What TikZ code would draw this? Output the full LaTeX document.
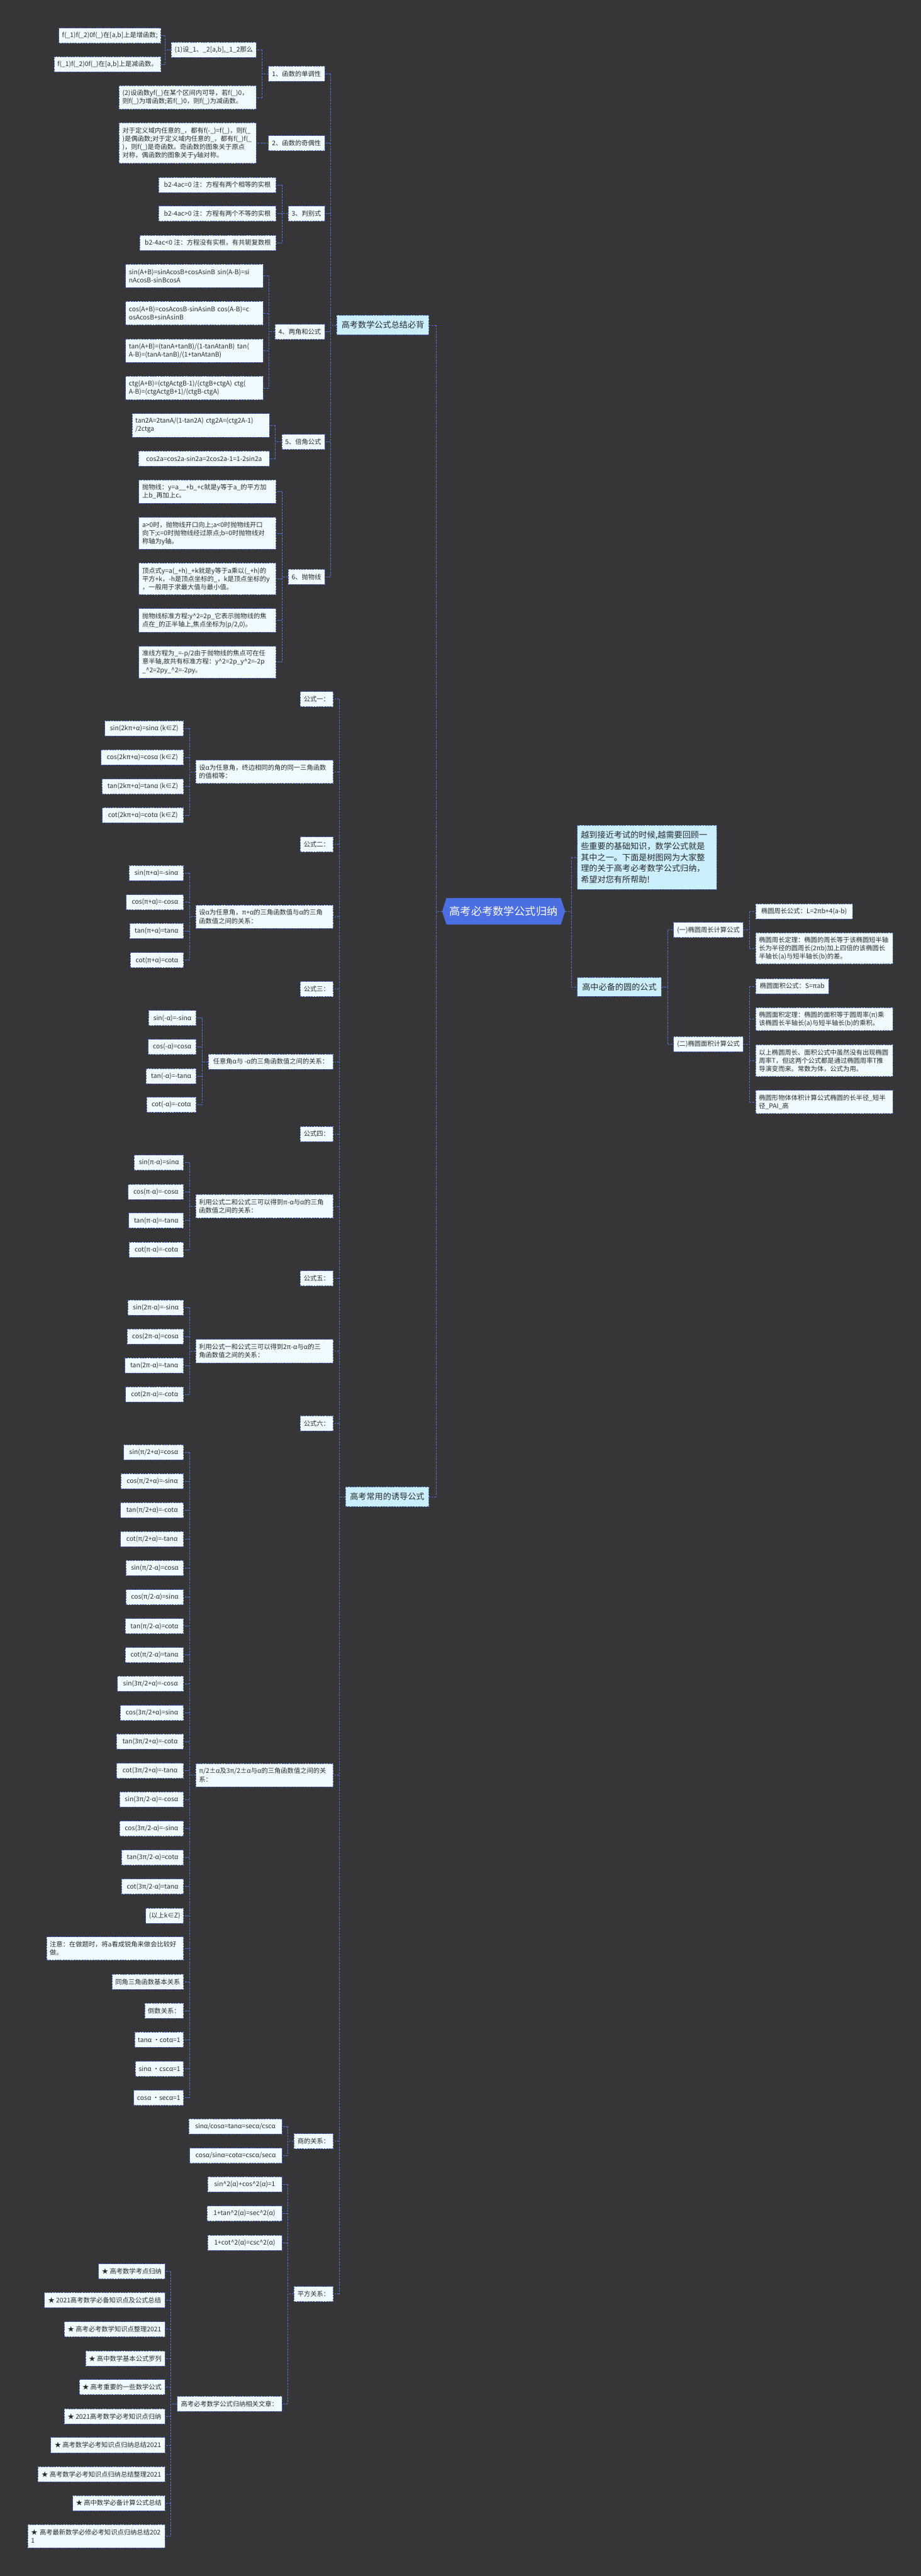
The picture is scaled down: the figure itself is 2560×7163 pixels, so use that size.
\documentclass[tikz,border=0pt]{standalone}
\usepackage{fontspec}
\setmainfont{Noto Sans CJK SC}
\usetikzlibrary{calc}
\definecolor{bg}{HTML}{363538}
\definecolor{nf}{HTML}{F0FBFF}
\definecolor{lf}{HTML}{CCEFFD}
\definecolor{bd}{HTML}{4A66C8}
\definecolor{ln}{HTML}{5577DC}
\definecolor{rt}{HTML}{4B6EE0}
\definecolor{tx}{HTML}{2A2A2A}
\newcommand\fs[2]{\fontsize{#1}{#2}\selectfont}
\tikzset{
  nd/.style={draw=bd, dash pattern=on 5pt off 2.5pt, line width=1.4pt, fill=nf, text=tx,
    font=\fs{18}{23}, inner xsep=9pt, inner ysep=3pt, minimum height=42pt, align=left},
  lone/.style={nd, fill=lf, font=\fs{23}{30}, inner xsep=11pt, minimum height=54pt},
  conn/.style={draw=ln, dash pattern=on 5pt off 3pt, line width=1.4pt},
}
% single-line / multi-line nodes, left tree (anchor east) and right tree (anchor west)
\newcommand\LN[5]{\node[nd,anchor=east,minimum width=#4pt] (#1) at (#2,#3) {#5};}
\newcommand\LM[6]{\node[nd,anchor=east,text width=#4pt,minimum height=#5pt] (#1) at (#2,#3) {#6};}
\newcommand\RN[5]{\node[nd,anchor=west,minimum width=#4pt] (#1) at (#2,#3) {#5};}
\newcommand\RM[6]{\node[nd,anchor=west,text width=#4pt,minimum height=#5pt] (#1) at (#2,#3) {#6};}
\newcommand\kidsL[4]{%
  \draw[conn] (#1.west) -- ++(-17,0) coordinate (bb);
  \draw[conn] (bb |- #2.east) -- (bb |- #3.east);
  \foreach \c in {#4}{\draw[conn] (bb |- \c.east) -- (\c.east);}}
\newcommand\kidsR[4]{%
  \draw[conn] (#1.east) -- ++(17,0) coordinate (bb);
  \draw[conn] (bb |- #2.west) -- (bb |- #3.west);
  \foreach \c in {#4}{\draw[conn] (bb |- \c.west) -- (\c.west);}}
\begin{document}
\catcode`\_=12 \catcode`\^=12
\begin{tikzpicture}[x=1pt,y=-1pt]
\fill[bg] (0,0) rectangle (2560,7163);
\useasboundingbox (0,0) rectangle (2560,7163);

% ---------- root ----------
\fill[rt] (1241,2497) -- (1559,2497) -- (1571,2534) -- (1559,2571) -- (1241,2571) -- (1229,2534) -- cycle;
\node[text=white, font=\fs{30}{36}, inner sep=0pt] (root) at (1400,2534) {高考必考数学公式归纳};
\node[inner sep=0pt, minimum size=0pt] (rootL) at (1229,2534) {};
\node[inner sep=0pt, minimum size=0pt] (rootR) at (1571,2534) {};

% ---------- level 1 ----------
\node[lone, anchor=east, minimum width=256pt] (la) at (1193,904) {高考数学公式总结必背};
\node[lone, anchor=east, minimum width=232pt, minimum height=55pt] (lb) at (1193,4162) {高考常用的诱导公式};
\node[lone, anchor=west, text width=367pt, minimum height=179pt, font=\fs{23}{31}, inner xsep=10pt] (intro) at (1604,2384)
  {越到接近考试的时候,越需要回顾一\\些重要的基础知识，数学公式就是\\其中之一。下面是树图网为大家整\\理的关于高考必考数学公式归纳，\\希望对您有所帮助!};
\node[lone, anchor=west, minimum width=234pt, minimum height=53pt] (circ) at (1604,2744) {高中必备的圆的公式};

% ---------- branch: 高考数学公式总结必背 ----------
\LN{n1}{903}{205}{156}{1、函数的单调性}
\LN{n2}{903}{398}{156}{2、函数的奇偶性}
\LN{n3}{903}{594}{101}{3、判别式}
\LN{n4}{903}{923}{138}{4、两角和公式}
\LN{n5}{903}{1229}{119}{5、倍角公式}
\LN{n6}{903}{1604}{101}{6、抛物线}

\LN{n1a}{713}{139}{231}{(1)设_1、_2[a,b],_1_2那么}
\LM{n1b}{713}{271}{363}{65}{(2)设函数yf(_)在某个区间内可导，若f(_)0，\\则f(_)为增函数;若f(_)0，则f(_)为减函数。}
\LN{n1a1}{448}{99}{281}{f(_1)f(_2)0f(_)在[a,b]上是增函数;}
\LN{n1a2}{448}{179}{295}{f(_1)f(_2)0f(_)在[a,b]上是减函数。}
\LM{n2a}{713}{398}{363}{113}{对于定义域内任意的_，都有f(-_)=f(_)，则f(_\\)是偶函数;对于定义域内任意的_，都有f(_)f(_\\)，则f(_)是奇函数。奇函数的图象关于原点\\对称，偶函数的图象关于y轴对称。}
\LN{n3a}{768}{514}{326}{b2-4ac=0 注：方程有两个相等的实根}
\LN{n3b}{768}{594}{326}{b2-4ac>0 注：方程有两个不等的实根}
\LN{n3c}{768}{675}{379}{b2-4ac<0 注：方程没有实根，有共轭复数根}
\LM{n4a}{732}{767}{364}{65}{sin(A+B)=sinAcosB+cosAsinB~sin(A-B)=si\\nAcosB-sinBcosA}
\LM{n4b}{732}{871}{364}{65}{cos(A+B)=cosAcosB-sinAsinB~cos(A-B)=c\\osAcosB+sinAsinB}
\LM{n4c}{732}{975}{364}{65}{tan(A+B)=(tanA+tanB)/(1-tanAtanB)~tan(\\A-B)=(tanA-tanB)/(1+tanAtanB)}
\LM{n4d}{732}{1079}{364}{65}{ctg(A+B)=(ctgActgB-1)/(ctgB+ctgA)~ctg(\\A-B)=(ctgActgB+1)/(ctgB-ctgA)}
\LM{n5a}{750}{1183}{364}{65}{tan2A=2tanA/(1-tan2A)~ctg2A=(ctg2A-1)\\/2ctga}
\LN{n5b}{750}{1275}{364}{cos2a=cos2a-sin2a=2cos2a-1=1-2sin2a}
\LM{n6a}{768}{1367}{363}{65}{抛物线：y=a__+b_+c就是y等于a_的平方加\\上b_再加上c。}
\LM{n6b}{768}{1483}{363}{88}{a>0时，抛物线开口向上;a<0时抛物线开口\\向下;c=0时抛物线经过原点;b=0时抛物线对\\称轴为y轴。}
\LM{n6c}{768}{1610}{363}{88}{顶点式y=a(_+h)_+k就是y等于a乘以(_+h)的\\平方+k，-h是顶点坐标的_，k是顶点坐标的y\\，一般用于求最大值与最小值。}
\LM{n6d}{768}{1725}{363}{65}{抛物线标准方程:y^2=2p_它表示抛物线的焦\\点在_的正半轴上,焦点坐标为(p/2,0)。}
\LM{n6e}{768}{1841}{363}{88}{准线方程为_=-p/2由于抛物线的焦点可在任\\意半轴,故共有标准方程：y^2=2p_y^2=-2p\\_^2=2py_^2=-2py。}

% ---------- branch: 高考常用的诱导公式 ----------
\LN{g1}{927}{1944}{92}{公式一：}
\LM{g2}{927}{2146}{364}{65}{设α为任意角，终边相同的角的同一三角函数\\的值相等：}
\LN{g3}{927}{2348}{92}{公式二：}
\LM{g4}{927}{2549}{364}{65}{设α为任意角，π+α的三角函数值与α的三角\\函数值之间的关系：}
\LN{g5}{927}{2750}{92}{公式三：}
\LN{g6}{927}{2952}{347}{任意角α与 -α的三角函数值之间的关系：}
\LN{g7}{927}{3153}{92}{公式四：}
\LM{g8}{927}{3354}{364}{65}{利用公式二和公式三可以得到π-α与α的三角\\函数值之间的关系：}
\LN{g9}{927}{3555}{92}{公式五：}
\LM{g10}{927}{3757}{364}{65}{利用公式一和公式三可以得到2π-α与α的三\\角函数值之间的关系：}
\LN{g11}{927}{3958}{92}{公式六：}
\LM{g12}{927}{4936}{364}{65}{π/2±α及3π/2±α与α的三角函数值之间的关\\系：}
\LN{g13}{927}{5954}{109}{商的关系：}
\LN{g14}{927}{6379}{109}{平方关系：}

\LN{g2a}{511}{2025}{219}{sin(2kπ+α)=sinα (k∈Z)}
\LN{g2b}{511}{2106}{229}{cos(2kπ+α)=cosα (k∈Z)}
\LN{g2c}{511}{2187}{227}{tan(2kπ+α)=tanα (k∈Z)}
\LN{g2d}{511}{2267}{226}{cot(2kπ+α)=cotα (k∈Z)}

\LN{g4a}{511}{2428}{151}{sin(π+α)=-sinα}
\LN{g4b}{511}{2509}{159}{cos(π+α)=-cosα}
\LN{g4c}{511}{2589}{150}{tan(π+α)=tanα}
\LN{g4d}{511}{2670}{148}{cot(π+α)=cotα}

\LN{g6a}{546}{2831}{132}{sin(-α)=-sinα}
\LN{g6b}{546}{2911}{133}{cos(-α)=cosα}
\LN{g6c}{546}{2992}{139}{tan(-α)=-tanα}
\LN{g6d}{546}{3072}{138}{cot(-α)=-cotα}

\LN{g8a}{511}{3233}{137}{sin(π-α)=sinα}
\LN{g8b}{511}{3314}{154}{cos(π-α)=-cosα}
\LN{g8c}{511}{3394}{152}{tan(π-α)=-tanα}
\LN{g8d}{511}{3475}{151}{cot(π-α)=-cotα}

\LN{g10a}{511}{3636}{155}{sin(2π-α)=-sinα}
\LN{g10b}{511}{3716}{157}{cos(2π-α)=cosα}
\LN{g10c}{511}{3797}{163}{tan(2π-α)=-tanα}
\LN{g10d}{511}{3877}{161}{cot(2π-α)=-cotα}

\LN{k1}{511}{4038}{166}{sin(π/2+α)=cosα}
\LN{k2}{511}{4119}{174}{cos(π/2+α)=-sinα}
\LN{k3}{511}{4199}{175}{tan(π/2+α)=-cotα}
\LN{k4}{511}{4280}{175}{cot(π/2+α)=-tanα}
\LN{k5}{511}{4360}{160}{sin(π/2-α)=cosα}
\LN{k6}{511}{4441}{160}{cos(π/2-α)=sinα}
\LN{k7}{511}{4522}{162}{tan(π/2-α)=cotα}
\LN{k8}{511}{4602}{162}{cot(π/2-α)=tanα}
\LN{k9}{511}{4682}{184}{sin(3π/2+α)=-cosα}
\LN{k10}{511}{4763}{176}{cos(3π/2+α)=sinα}
\LN{k11}{511}{4843}{186}{tan(3π/2+α)=-cotα}
\LN{k12}{511}{4924}{186}{cot(3π/2+α)=-tanα}
\LN{k13}{511}{5004}{178}{sin(3π/2-α)=-cosα}
\LN{k14}{511}{5085}{178}{cos(3π/2-α)=-sinα}
\LN{k15}{511}{5165}{172}{tan(3π/2-α)=cotα}
\LN{k16}{511}{5246}{172}{cot(3π/2-α)=tanα}
\LN{k17}{511}{5327}{105}{(以上k∈Z)}
\LM{k18}{511}{5418}{363}{65}{注意：在做题时，将a看成锐角来做会比较好\\做。}
\LN{k19}{511}{5511}{199}{同角三角函数基本关系}
\LN{k20}{511}{5591}{95}{倒数关系：}
\LN{k21}{511}{5672}{132}{tanα ·cotα=1}
\LN{k22}{511}{5753}{127}{sinα ·cscα=1}
\LN{k23}{511}{5833}{133}{cosα ·secα=1}

\LN{g13a}{784}{5913}{258}{sinα/cosα=tanα=secα/cscα}
\LN{g13b}{784}{5994}{256}{cosα/sinα=cotα=cscα/secα}

\LN{g14a}{784}{6074}{206}{sin^2(α)+cos^2(α)=1}
\LN{g14b}{784}{6155}{208}{1+tan^2(α)=sec^2(α)}
\LN{g14c}{784}{6236}{206}{1+cot^2(α)=csc^2(α)}
\LN{rel}{784}{6684}{291}{高考必考数学公式归纳相关文章：}

\LN{r1}{459}{6316}{183}{★ 高考数学考点归纳}
\LN{r2}{459}{6396}{335}{★ 2021高考数学必备知识点及公式总结}
\LN{r3}{459}{6477}{280}{★ 高考必考数学知识点整理2021}
\LN{r4}{459}{6558}{220}{★ 高中数学基本公式罗列}
\LN{r5}{459}{6638}{238}{★ 高考重要的一些数学公式}
\LN{r6}{459}{6719}{280}{★ 2021高考数学必考知识点归纳}
\LN{r7}{459}{6799}{317}{★ 高考数学必考知识点归纳总结2021}
\LN{r8}{459}{6880}{353}{★ 高考数学必考知识点归纳总结整理2021}
\LN{r9}{459}{6960}{256}{★ 高中数学必备计算公式总结}
\LM{r10}{459}{7052}{363}{65}{★ 高考最新数学必修必考知识点归纳总结202\\1}

% ---------- branch: 高中必备的圆的公式 ----------
\RN{e1}{1872}{2586}{193}{(一)椭圆周长计算公式}
\RN{e2}{1872}{2903}{193}{(二)椭圆面积计算公式}
\RN{e1a}{2100}{2534}{269}{椭圆周长公式：L=2πb+4(a-b)}
\RM{e1b}{2100}{2637}{363}{87}{椭圆周长定理：椭圆的周长等于该椭圆短半轴\\长为半径的圆周长(2πb)加上四倍的该椭圆长\\半轴长(a)与短半轴长(b)的差。}
\RN{e2a}{2100}{2742}{203}{椭圆面积公式：S=πab}
\RM{e2b}{2100}{2834}{363}{64}{椭圆面积定理：椭圆的面积等于圆周率(π)乘\\该椭圆长半轴长(a)与短半轴长(b)的乘积。}
\RM{e2c}{2100}{2949}{363}{88}{以上椭圆周长、面积公式中虽然没有出现椭圆\\周率T，但这两个公式都是通过椭圆周率T推\\导演变而来。常数为体，公式为用。}
\RM{e2d}{2100}{3064}{363}{65}{椭圆形物体体积计算公式椭圆的长半径_短半\\径_PAI_高}

% ---------- connectors ----------
\kidsL{rootL}{la}{lb}{la,lb}
\kidsR{rootR}{intro}{circ}{intro,circ}
\kidsL{la}{n1}{n6}{n1,n2,n3,n4,n5,n6}
\kidsL{n1}{n1a}{n1b}{n1a,n1b}
\kidsL{n1a}{n1a1}{n1a2}{n1a1,n1a2}
\kidsL{n2}{n2a}{n2a}{n2a}
\kidsL{n3}{n3a}{n3c}{n3a,n3b,n3c}
\kidsL{n4}{n4a}{n4d}{n4a,n4b,n4c,n4d}
\kidsL{n5}{n5a}{n5b}{n5a,n5b}
\kidsL{n6}{n6a}{n6e}{n6a,n6b,n6c,n6d,n6e}
\kidsL{lb}{g1}{g14}{g1,g2,g3,g4,g5,g6,g7,g8,g9,g10,g11,g12,g13,g14}
\kidsL{g2}{g2a}{g2d}{g2a,g2b,g2c,g2d}
\kidsL{g4}{g4a}{g4d}{g4a,g4b,g4c,g4d}
\kidsL{g6}{g6a}{g6d}{g6a,g6b,g6c,g6d}
\kidsL{g8}{g8a}{g8d}{g8a,g8b,g8c,g8d}
\kidsL{g10}{g10a}{g10d}{g10a,g10b,g10c,g10d}
\kidsL{g12}{k1}{k23}{k1,k2,k3,k4,k5,k6,k7,k8,k9,k10,k11,k12,k13,k14,k15,k16,k17,k18,k19,k20,k21,k22,k23}
\kidsL{g13}{g13a}{g13b}{g13a,g13b}
\kidsL{g14}{g14a}{rel}{g14a,g14b,g14c,rel}
\kidsL{rel}{r1}{r10}{r1,r2,r3,r4,r5,r6,r7,r8,r9,r10}
\kidsR{circ}{e1}{e2}{e1,e2}
\kidsR{e1}{e1a}{e1b}{e1a,e1b}
\kidsR{e2}{e2a}{e2d}{e2a,e2b,e2c,e2d}
\end{tikzpicture}
\end{document}
